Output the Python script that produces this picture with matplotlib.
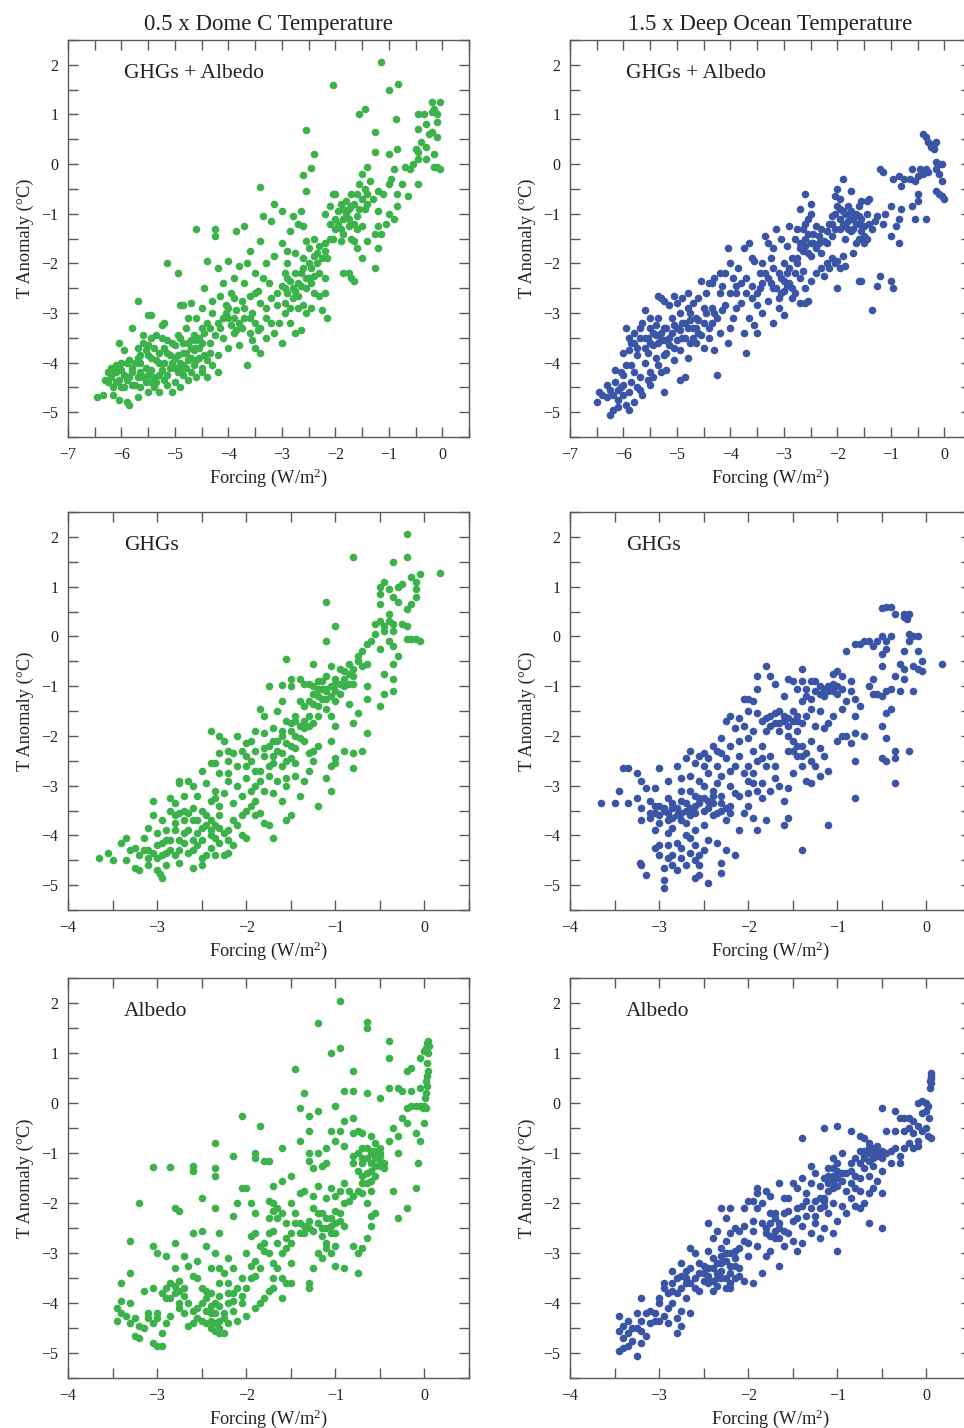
import matplotlib
matplotlib.use("Agg")
import matplotlib.pyplot as plt
from matplotlib.ticker import MultipleLocator

# ---------------- data ----------------
dome_both = [
    (-1.15, 2.05), (-2.05, 1.6), (-1.0, 1.5), (-0.83, 1.62), (-1.45, 1.1), (-1.55, 1.0), (-2.55, 0.68),
    (-1.25, 0.65), (-0.87, 0.9), (-2.4, 0.2), (-1.25, 0.25), (-2.45, -0.08), (-2.6, -0.23), (-2.55, -0.55),
    (-3.4, -0.47), (-1.0, 0.2), (-0.85, 0.3), (-0.9, -0.1), (-0.6, -0.1), (-0.65, -0.65), (-0.75, -0.4),
    (-0.05, 1.25), (-0.2, 1.25), (-0.15, 1.1), (-0.1, 1.0), (-0.2, 1.05), (-0.35, 1.0), (-0.45, 1.0),
    (-0.1, 0.85), (-0.3, 0.8), (-0.45, 0.7), (-0.2, 0.65), (-0.1, 0.55), (-0.4, 0.45), (-0.3, 0.35),
    (-0.5, 0.3), (-0.45, 0.25), (-0.15, 0.2), (-0.3, 0.1), (-0.45, 0.1), (-0.55, 0.0), (-0.1, -0.05),
    (-0.15, -0.05), (-0.05, -0.1), (-0.45, -0.4), (-0.7, -0.05), (-0.25, 0.6),
    (-0.85, -0.6), (-0.95, -0.3), (-1.0, -1.0), (-0.9, -1.1), (-1.05, -1.2), (-1.15, -1.4), (-1.2, -1.25),
    (-1.2, -0.55), (-1.4, -0.05), (-1.35, -0.35), (-1.45, -0.5), (-1.4, -0.8), (-1.5, -1.25), (-1.4, -1.55),
    (-1.25, -1.4), (-1.2, -1.7), (-1.25, -2.1), (-1.5, -1.9), (-1.6, -1.7), (-1.65, -1.55), (-1.7, -2.3),
    (-1.75, -2.2), (-1.85, -2.2), (-1.65, -2.35),
    (-1.5, -0.2), (-1.55, -0.4), (-1.6, -0.6), (-1.7, -0.6), (-1.65, -0.8), (-1.75, -0.9), (-1.8, -1.0),
    (-1.9, -0.8), (-1.95, -0.95), (-2.0, -0.6), (-2.05, -0.6), (-2.1, -0.85), (-1.85, -1.1), (-1.6, -1.05),
    (-1.6, -1.3), (-1.75, -1.25), (-1.85, -1.4), (-2.0, -1.3), (-2.1, -1.2), (-2.2, -1.0), (-1.7, -1.5),
    (-1.9, -1.55), (-2.05, -1.5),
    (-2.2, -1.75), (-2.3, -1.65), (-2.4, -1.85), (-2.5, -1.7), (-2.55, -1.55), (-2.6, -1.25), (-2.65, -0.95),
    (-2.7, -1.2), (-2.8, -1.05), (-2.85, -1.35), (-2.9, -1.75), (-3.0, -1.6), (-3.15, -1.85), (-3.2, -1.15),
    (-3.15, -0.8), (-3.0, -0.95), (-3.35, -1.05), (-3.4, -1.55), (-2.35, -2.0), (-2.45, -2.1), (-2.5, -2.3),
    (-2.55, -2.5), (-2.65, -2.2), (-2.7, -2.4), (-2.75, -2.2), (-2.8, -2.5), (-2.85, -2.35), (-2.9, -2.6),
    (-2.95, -2.2), (-3.0, -2.45), (-2.6, -2.85), (-2.65, -3.35), (-2.55, -3.0), (-2.45, -2.9), (-2.3, -2.65),
    (-2.2, -2.6), (-2.2, -2.3), (-2.15, -3.1), (-2.25, -2.95), (-2.4, -2.6), (-2.7, -2.9), (-2.75, -3.4),
    (-2.85, -3.2), (-2.95, -3.0), (-3.0, -3.6), (-3.1, -2.85), (-3.2, -3.2), (-3.3, -3.1), (-3.4, -2.8),
    (-3.35, -2.3), (-3.3, -2.0), (-3.5, -2.2), (-3.5, -2.6), (-3.55, -3.0), (-3.45, -3.35), (-3.5, -3.7),
    (-3.4, -3.8), (-3.6, -3.4), (-3.7, -3.1), (-3.75, -2.75), (-3.7, -2.4), (-3.65, -2.0), (-3.6, -1.75),
    (-3.7, -1.25), (-3.85, -1.35), (-3.8, -2.05), (-3.9, -2.3), (-3.95, -2.6), (-3.85, -2.95), (-3.9, -3.4),
    (-3.8, -3.65), (-3.65, -4.05), (-4.0, -3.1), (-4.05, -2.85), (-4.1, -3.5), (-4.15, -2.65), (-4.2, -2.1),
    (-4.25, -1.3), (-4.25, -1.45), (-4.0, -1.95), (-4.3, -3.0), (-4.35, -3.3), (-4.2, -3.85), (-4.45, -2.5),
    (-4.4, -1.95), (-4.6, -1.3), (-4.7, -2.8), (-4.75, -3.1), (-4.85, -2.85), (-4.95, -2.2), (-4.9, -2.85),
    (-5.15, -2.0), (-5.2, -3.2), (-5.45, -3.05), (-5.5, -3.05), (-5.7, -2.75), (-5.8, -3.3), (-6.05, -3.6),
    (-4.5, -3.3), (-4.55, -3.5), (-4.6, -3.7), (-4.65, -3.45), (-4.7, -3.9), (-4.75, -3.6), (-4.8, -4.1),
    (-4.85, -3.8), (-4.9, -3.5), (-4.95, -4.2), (-5.0, -3.9), (-5.05, -3.6), (-5.1, -4.1), (-5.15, -3.8),
    (-5.2, -4.35), (-5.25, -3.5), (-5.3, -4.0), (-5.35, -4.4), (-5.4, -3.7), (-5.45, -4.15), (-5.5, -3.85),
    (-5.55, -4.4), (-5.6, -3.6), (-5.65, -4.2), (-5.7, -3.9), (-5.75, -4.45), (-5.8, -4.1), (-5.85, -4.3),
    (-5.9, -4.0), (-5.95, -4.5), (-6.0, -4.15), (-6.05, -4.35), (-6.1, -4.2), (-6.15, -4.5), (-6.2, -4.3),
    (-6.25, -4.4), (-6.0, -4.0), (-5.9, -4.8), (-5.85, -4.85), (-6.05, -4.75), (-6.15, -4.65), (-6.45, -4.7),
    (-6.35, -4.65), (-4.4, -4.3), (-4.3, -4.05), (-4.2, -4.2), (-4.5, -4.1), (-4.6, -4.3), (-4.75, -4.35),
    (-4.9, -4.5), (-5.05, -4.6), (-5.3, -4.6), (-5.5, -4.6), (-5.7, -4.7), (-4.45, -3.85), (-4.35, -3.6),
    (-4.25, -3.45), (-4.4, -3.95), (-4.15, -3.3), (-4.05, -3.0), (-3.95, -3.25), (-3.85, -3.35), (-4.0, -3.7),
    (-5.25, -3.25), (-5.35, -3.45), (-5.15, -3.55), (-5.45, -3.5), (-5.6, -3.45), (-5.7, -3.7), (-5.55, -3.75),
    (-5.95, -3.75), (-6.1, -4.05), (-6.2, -4.1), (-5.8, -4.2), (-5.65, -4.5), (-5.4, -4.3), (-5.2, -4.0),
    (-4.9, -4.0), (-4.65, -4.05), (-4.55, -3.9), (-4.7, -3.7), (-4.85, -4.25), (-5.0, -4.4), (-4.8, -3.3),
    (-4.95, -3.45),
    (-6.2, -4.25), (-6.1, -4.4), (-6.0, -4.5), (-5.95, -4.25), (-5.9, -4.35), (-5.8, -4.45), (-5.75, -4.0),
    (-5.7, -4.3), (-5.65, -4.0), (-5.6, -4.3), (-5.55, -4.1), (-5.5, -4.25), (-5.45, -3.9), (-5.4, -4.5),
    (-5.35, -3.95), (-5.3, -4.25), (-5.25, -4.15), (-5.2, -3.7), (-5.15, -4.25), (-5.1, -3.85), (-5.05, -4.0),
    (-5.0, -3.65), (-4.95, -3.85), (-4.9, -4.15), (-4.85, -3.6), (-4.8, -3.8), (-4.75, -3.95), (-4.7, -3.55),
    (-4.65, -3.75), (-4.6, -3.55), (-4.55, -3.7), (-4.5, -3.6), (-4.45, -3.4), (-4.6, -3.95), (-4.7, -4.2),
    (-5.0, -4.1), (-5.3, -3.8), (-5.5, -3.65), (-5.65, -3.85), (-5.85, -3.95), (-6.05, -4.1), (-6.25, -4.2),
    (-6.3, -4.35), (-5.45, -4.4), (-5.15, -4.45), (-4.85, -4.05), (-4.5, -4.2), (-4.35, -3.8),
    (-4.2, -3.2), (-4.1, -3.1), (-4.0, -2.9), (-3.9, -3.1), (-3.8, -3.2), (-3.7, -2.9), (-3.6, -3.1),
    (-3.5, -3.2), (-3.4, -3.3), (-3.3, -2.9), (-3.2, -2.7), (-3.1, -2.6), (-3.05, -3.2), (-2.95, -2.8),
    (-2.9, -2.3), (-2.8, -2.7), (-2.75, -2.55), (-2.7, -2.65), (-2.65, -2.45), (-2.6, -2.1), (-2.55, -2.3),
    (-2.5, -2.0), (-2.45, -2.4), (-2.4, -2.25), (-2.35, -1.8), (-2.3, -2.2), (-2.25, -1.9), (-2.2, -1.6),
    (-2.15, -1.9), (-2.1, -1.5), (-2.0, -1.1), (-1.95, -1.2), (-1.9, -1.3), (-1.85, -0.9), (-1.8, -0.75),
    (-1.75, -1.1), (-1.7, -0.85), (-1.65, -1.2), (-1.55, -0.9), (-1.5, -0.7), (-1.45, -0.9), (-1.4, -0.6),
    (-1.3, -0.7), (-1.2, -0.95), (-1.1, -0.6), (-1.0, -0.4), (-0.85, -0.85), (-2.85, -2.9), (-2.95, -2.5),
    (-3.25, -2.4), (-3.45, -2.55), (-3.6, -2.65), (-3.75, -3.3), (-3.55, -3.55), (-3.3, -3.5), (-3.15, -3.4),
    (-3.9, -2.7), (-4.1, -2.4), (-4.3, -2.75), (-4.5, -2.9), (-4.6, -3.1), (-4.4, -3.2), (-2.4, -1.5),
    (-2.6, -1.9), (-2.75, -1.8), (-2.9, -2.0),
]

ocean_both = [
    (-0.4, 0.6), (-0.35, 0.55), (-0.3, 0.45), (-0.2, 0.4), (-0.15, 0.45), (-0.25, 0.35), (-0.2, 0.3),
    (-0.15, 0.05), (-0.1, 0.0), (-0.05, 0.0), (-0.15, -0.1), (-0.1, -0.2), (-0.05, -0.35), (-0.15, -0.55),
    (-0.05, -0.65), (0.0, -0.7), (-0.1, -0.6), (-0.3, -0.15), (-0.35, -0.1), (-0.4, -0.2), (-0.45, -0.1),
    (-0.5, -0.25), (-0.55, -0.35), (-0.6, -0.1), (-0.65, -0.3), (-0.5, -0.6), (-0.5, -0.75), (-0.6, -0.85),
    (-0.55, -1.1), (-0.35, -1.1), (-0.75, -0.3), (-0.8, -0.45), (-0.85, -0.25), (-0.95, -0.3), (-1.2, -0.1),
    (-1.15, -0.15), (-0.8, -0.9), (-0.85, -1.1), (-0.9, -1.25), (-0.85, -1.6), (-1.0, -0.85), (-1.0, -1.45),
    (-1.1, -1.0), (-1.15, -1.2), (-1.25, -1.05), (-1.2, -2.25), (-1.0, -2.35), (-0.95, -2.5), (-1.25, -2.45),
    (-1.35, -2.95), (-1.55, -2.35), (-1.6, -2.35),
    (-1.4, -0.7), (-1.45, -0.75), (-1.55, -0.75), (-1.6, -0.85), (-1.65, -1.0), (-1.7, -1.1), (-1.75, -0.95),
    (-1.8, -0.85), (-1.85, -1.0), (-1.9, -1.2), (-1.95, -0.9), (-2.0, -0.85), (-2.05, -1.0), (-2.0, -0.5),
    (-2.05, -0.65), (-1.9, -0.3), (-1.75, -0.55), (-1.6, -1.2), (-1.55, -1.35), (-1.6, -1.5), (-1.5, -1.6),
    (-1.65, -1.6), (-1.7, -1.8), (-1.75, -1.35), (-1.85, -1.5), (-1.95, -1.3), (-2.1, -1.2), (-1.45, -1.0),
    (-1.4, -1.2), (-1.5, -1.25), (-1.35, -1.3), (-1.3, -1.15), (-1.45, -1.5),
    (-1.9, -1.85), (-2.0, -1.95), (-2.05, -2.0), (-2.1, -1.9), (-2.15, -2.1), (-2.2, -2.0), (-2.25, -2.25),
    (-2.3, -2.1), (-2.0, -2.5), (-1.95, -2.1), (-1.85, -2.05),
    (-2.1, -1.45), (-2.2, -1.6), (-2.3, -1.8), (-2.35, -1.6), (-2.4, -1.25), (-2.45, -1.4), (-2.5, -1.6),
    (-2.55, -1.8), (-2.6, -1.5), (-2.65, -1.3), (-2.55, -1.1), (-2.5, -0.8), (-2.5, -1.0), (-2.6, -0.6),
    (-2.7, -0.9), (-2.75, -1.3), (-2.7, -1.7), (-2.8, -1.5), (-2.85, -1.9), (-2.9, -1.25), (-2.95, -1.65),
    (-3.0, -2.0), (-3.05, -1.5), (-3.15, -1.3), (-3.2, -1.7), (-3.25, -1.9), (-3.3, -1.6), (-3.35, -1.45),
    (-2.4, -2.2), (-2.5, -2.35), (-2.6, -2.5), (-2.65, -2.15), (-2.7, -2.3), (-2.75, -2.0), (-2.8, -2.6),
    (-2.9, -2.4), (-2.95, -2.2), (-3.0, -2.55), (-3.05, -2.3), (-3.1, -2.7), (-3.15, -2.5), (-3.2, -2.1),
    (-3.25, -2.4), (-3.3, -2.75), (-3.35, -2.2), (-3.4, -2.0), (-3.45, -2.5), (-3.5, -2.85), (-2.55, -2.75),
    (-2.6, -2.8), (-2.7, -2.8), (-2.85, -2.7), (-3.0, -3.05), (-3.1, -2.9), (-3.2, -3.2), (-3.4, -3.0),
    (-3.5, -3.4), (-3.65, -3.1), (-3.7, -3.8), (-3.75, -3.4), (-3.55, -3.25), (-3.6, -2.7), (-3.7, -2.3),
    (-3.75, -1.7), (-3.65, -1.6), (-3.85, -2.1), (-3.9, -2.6), (-3.95, -2.3), (-4.0, -2.0), (-4.05, -1.7),
    (-4.1, -2.2), (-4.15, -2.45), (-4.2, -2.6), (-4.3, -2.3), (-4.35, -2.4), (-3.9, -2.9), (-3.95, -3.1),
    (-4.0, -3.3), (-4.05, -3.6), (-4.1, -2.85), (-4.3, -3.0), (-4.35, -3.2), (-4.45, -2.6), (-4.55, -2.35),
    (-4.6, -2.7), (-4.7, -2.8), (-4.75, -3.0), (-4.8, -2.6), (-4.9, -2.7), (-5.05, -2.65), (-5.15, -2.85),
    (-5.25, -2.75), (-5.35, -2.65), (-5.3, -2.7), (-4.4, -3.5), (-4.3, -3.75), (-4.2, -3.4), (-4.5, -3.7),
    (-4.6, -3.4), (-4.65, -3.1), (-4.7, -3.3), (-4.75, -3.6), (-4.8, -3.9), (-4.85, -3.2), (-4.9, -3.5),
    (-4.95, -3.0), (-5.0, -3.3), (-5.05, -3.7), (-5.1, -3.1), (-5.15, -3.5), (-5.2, -3.8), (-5.25, -3.3),
    (-5.3, -3.55), (-5.35, -3.1), (-5.4, -3.45), (-5.45, -3.65), (-5.5, -3.3), (-5.55, -3.5), (-5.6, -3.7),
    (-5.65, -3.2), (-5.7, -3.5), (-5.75, -3.85), (-5.8, -3.4), (-5.85, -3.6), (-5.9, -3.75), (-5.95, -3.3),
    (-6.0, -3.8), (-5.6, -2.95), (-5.5, -3.1), (-4.25, -4.25), (-4.95, -4.35), (-4.85, -4.3), (-5.2, -4.15),
    (-5.3, -4.2), (-5.35, -4.05), (-5.25, -4.6), (-5.5, -4.2), (-5.5, -4.45), (-5.55, -4.35), (-5.6, -4.0),
    (-5.7, -4.3), (-5.75, -4.5), (-5.8, -4.2), (-5.85, -4.05), (-5.9, -4.6), (-5.95, -4.85), (-6.0, -4.25),
    (-6.05, -4.5), (-6.1, -4.75), (-6.15, -4.4), (-6.2, -4.65), (-6.25, -4.55), (-6.3, -4.45), (-6.2, -4.95),
    (-6.25, -5.05), (-6.1, -4.9), (-5.9, -4.95), (-6.45, -4.6), (-6.5, -4.8), (-6.4, -4.65), (-5.65, -4.65),
    (-5.8, -4.8), (-6.0, -4.65), (-6.05, -4.2),
    (-5.7, -3.3), (-5.6, -3.5), (-5.5, -3.6), (-5.45, -3.4), (-5.4, -3.25), (-5.35, -3.6), (-5.3, -3.4),
    (-5.25, -3.55), (-5.2, -3.3), (-5.15, -3.65), (-5.1, -3.4), (-5.05, -3.25), (-5.0, -3.55), (-4.95, -3.35),
    (-4.9, -3.2), (-4.85, -3.5), (-4.8, -3.3), (-4.75, -3.15), (-4.7, -3.5), (-4.65, -3.3), (-4.6, -3.15),
    (-4.55, -3.45), (-4.5, -3.2), (-4.45, -3.0), (-4.4, -3.3), (-4.35, -2.9), (-4.25, -3.1), (-4.15, -2.95),
    (-5.8, -3.6), (-5.9, -3.5), (-5.75, -3.7), (-5.55, -3.8), (-5.25, -3.85), (-4.95, -3.75), (-4.65, -3.6),
    (-5.4, -3.9), (-5.05, -3.95),
    (-4.0, -2.6), (-3.9, -2.45), (-3.8, -2.8), (-3.7, -2.6), (-3.6, -2.45), (-3.5, -2.6), (-3.4, -2.4),
    (-3.3, -2.3), (-3.2, -2.5), (-3.1, -2.2), (-3.05, -2.6), (-3.0, -2.35), (-2.95, -2.45), (-2.9, -2.1),
    (-2.85, -2.5), (-2.8, -2.2), (-2.75, -1.9), (-2.7, -1.6), (-2.65, -1.75), (-2.6, -1.65), (-2.55, -1.4),
    (-2.5, -1.85), (-2.45, -1.6), (-2.4, -1.7), (-2.35, -1.45), (-2.3, -1.3), (-2.25, -1.55), (-2.2, -1.35),
    (-2.15, -1.2), (-2.1, -1.05), (-2.05, -1.3), (-1.95, -1.1), (-1.9, -0.95), (-1.85, -1.25), (-1.8, -1.15),
    (-1.75, -1.05), (-1.7, -1.3), (-1.65, -1.2), (-1.6, -1.05), (-1.55, -1.1), (-1.5, -1.45), (-1.8, -1.3),
    (-1.95, -0.7), (-2.6, -1.2), (-3.6, -1.9), (-3.45, -2.2), (-3.55, -1.95), (-3.8, -2.4), (-4.2, -2.2),
    (-4.4, -2.4), (-4.5, -2.9), (-4.8, -2.9), (-5.0, -2.8), (-5.95, -4.05), (-6.1, -4.55), (-5.85, -4.4),
    (-5.7, -4.55), (-6.15, -4.15), (-6.3, -4.7), (-6.0, -4.45), (-5.45, -4.3),
]

dome_ghg = [
    (-0.2, 2.05), (-0.8, 1.6), (-0.2, 1.6), (-0.35, 1.5), (0.18, 1.27), (-0.05, 1.25), (-0.15, 1.2),
    (-0.1, 1.1), (-0.25, 1.05), (-0.3, 1.0), (-0.45, 1.1), (-0.5, 1.0), (-0.5, 0.85), (-0.4, 0.95),
    (-0.1, 0.95), (-0.1, 0.8), (-0.35, 0.8), (-0.3, 0.7), (-0.15, 0.65), (-0.2, 0.55), (-0.5, 0.65),
    (-0.4, 0.45), (-1.1, 0.7), (-1.0, 0.2), (-1.1, -0.1), (-0.4, 0.3), (-0.5, 0.3), (-0.45, 0.2),
    (-0.35, 0.25), (-0.25, 0.25), (-0.2, 0.2), (-0.55, 0.25), (-0.45, 0.1), (-0.55, 0.05), (-0.35, 0.1),
    (-0.1, -0.05), (-0.05, -0.1), (-0.15, -0.05), (-0.2, -0.05), (-0.4, -0.1), (-0.35, -0.2), (-0.5, -0.25),
    (-0.3, -0.4), (-0.35, -0.55), (-0.45, -0.75), (-0.35, -0.85), (-0.45, -1.15), (-0.35, -1.1), (-0.5, -1.4),
    (-0.6, -0.1), (-0.65, -0.15), (-0.7, -0.3), (-0.75, -0.5), (-0.65, -1.0), (-0.65, -1.25), (-0.65, -1.95),
    (-0.7, -2.3), (-0.8, -2.35), (-0.8, -2.65), (-0.9, -2.3), (-0.85, -1.35), (-0.75, -1.55), (-0.8, -1.75),
    (-0.85, -0.55), (-0.9, -0.7), (-0.95, -0.65), (-1.0, -0.85), (-1.05, -0.6), (-0.95, -0.95), (-1.0, -1.1),
    (-1.05, -1.0), (-1.1, -0.8), (-1.15, -1.05), (-1.2, -0.9), (-1.1, -1.25), (-1.2, -1.2), (-1.25, -1.0),
    (-1.3, -1.3), (-1.35, -0.95), (-1.4, -1.3), (-1.25, -0.55), (-1.3, -0.95), (-1.4, -0.85), (-1.5, -0.85),
    (-1.5, -1.0), (-1.6, -0.98), (-1.75, -1.0), (-1.55, -0.45), (-1.45, -1.6), (-1.55, -1.7), (-1.6, -1.3),
    (-1.65, -1.5), (-1.3, -1.8), (-1.35, -1.7), (-1.25, -1.75), (-1.2, -1.6), (-1.1, -1.45), (-1.05, -1.6),
    (-1.0, -1.8), (-1.05, -2.1), (-1.0, -2.45), (-1.05, -2.6), (-1.1, -2.85), (-1.05, -3.1), (-1.0, -2.55),
    (-1.2, -2.2), (-1.25, -2.5), (-1.3, -2.35), (-1.35, -2.9), (-1.4, -2.05), (-1.45, -2.25), (-1.5, -2.45),
    (-1.55, -2.15), (-1.6, -2.0), (-1.65, -2.3), (-1.7, -1.85), (-1.7, -2.55), (-1.75, -2.2), (-1.8, -1.6),
    (-1.85, -1.45), (-1.85, -2.7), (-1.8, -2.4), (-1.9, -1.9), (-1.95, -2.1), (-1.95, -2.5), (-2.0, -2.6),
    (-2.05, -2.3), (-2.1, -2.0), (-2.15, -2.35), (-2.2, -2.5), (-2.25, -2.1), (-2.3, -2.0), (-2.3, -2.75),
    (-2.4, -1.9), (-2.35, -2.55), (-2.0, -2.85), (-1.95, -3.1), (-1.9, -3.3), (-2.0, -3.5), (-2.05, -3.2),
    (-2.1, -3.0), (-2.15, -3.35), (-2.2, -2.9), (-2.25, -3.15), (-2.3, -3.4), (-2.35, -3.1), (-2.4, -3.3),
    (-2.45, -2.95), (-2.5, -3.5), (-2.55, -3.2), (-2.6, -3.0), (-2.65, -2.9), (-2.7, -3.2), (-2.75, -2.95),
    (-2.8, -3.6), (-1.85, -3.55), (-1.8, -3.75), (-1.75, -3.8), (-1.7, -4.05), (-1.55, -3.7), (-1.5, -3.6),
    (-1.2, -3.4), (-1.6, -3.3), (-1.65, -2.9), (-1.55, -2.85), (-1.45, -2.8), (-1.4, -3.2), (-1.3, -2.7),
    (-1.75, -2.8), (-1.7, -3.15), (-2.0, -4.05), (-2.05, -4.0), (-2.15, -4.2), (-2.2, -3.9), (-2.25, -4.4),
    (-2.3, -4.15), (-2.35, -3.8), (-2.4, -4.0), (-2.45, -4.4), (-2.5, -3.85), (-2.55, -4.2), (-2.6, -3.7),
    (-2.65, -4.35), (-2.7, -3.95), (-2.75, -4.1), (-2.8, -3.75), (-2.85, -4.3), (-2.9, -3.9), (-2.95, -4.4),
    (-3.0, -4.2), (-3.05, -3.6), (-3.1, -4.3), (-3.15, -4.05), (-3.2, -4.4), (-3.25, -4.25), (-2.9, -4.6),
    (-2.95, -4.85), (-2.97, -4.78), (-3.0, -4.7), (-3.1, -4.6), (-3.2, -4.7), (-3.25, -4.65), (-2.75, -4.55),
    (-2.6, -4.65), (-2.5, -4.6), (-2.35, -4.4), (-2.2, -4.35), (-3.3, -4.3), (-3.35, -4.5), (-3.4, -4.15),
    (-3.5, -4.5), (-3.55, -4.35), (-3.65, -4.45), (-3.35, -4.05), (-3.1, -3.85), (-3.05, -3.3), (-2.95, -3.7),
    (-2.85, -3.5), (-2.75, -3.55), (-2.7, -3.5), (-2.6, -3.45), (-2.45, -3.6), (-2.4, -3.7), (-2.3, -3.6),
    (-2.1, -3.8), (-1.9, -3.6), (-2.85, -3.25), (-2.75, -2.9), (-2.5, -2.7), (-2.4, -2.55), (-2.3, -2.35),
    (-2.2, -2.3), (-1.9, -2.3), (-1.8, -2.25), (-1.6, -2.6), (-1.5, -1.9), (-1.45, -1.7), (-1.35, -1.85),
    (-1.2, -1.4), (-1.1, -1.1), (-1.0, -1.3), (-0.9, -1.0), (-0.85, -0.75), (-0.8, -0.65), (-0.7, -0.6),
    (-0.75, -0.4), (-0.8, -0.95), (-0.65, -0.55),
    (-3.05, -4.35), (-3.0, -4.45), (-2.95, -4.15), (-2.9, -4.35), (-2.85, -4.1), (-2.8, -4.4), (-2.75, -4.3),
    (-2.7, -4.15), (-2.65, -3.9), (-2.6, -4.1), (-2.55, -3.95), (-2.5, -4.1), (-2.45, -3.8), (-2.4, -3.9),
    (-2.35, -4.05), (-2.3, -3.85), (-2.25, -3.95), (-2.7, -3.7), (-2.8, -3.9), (-2.9, -4.1), (-3.0, -3.95),
    (-3.15, -4.3), (-3.1, -4.45), (-2.6, -4.3), (-2.5, -4.45), (-2.4, -4.25), (-2.2, -4.1), (-2.15, -3.7),
    (-2.05, -3.6), (-1.95, -3.4), (-1.9, -3.0), (-1.85, -2.9), (-1.8, -3.1), (-1.75, -2.6), (-1.7, -2.4),
    (-1.65, -2.1), (-1.6, -2.35), (-1.55, -2.5), (-1.5, -2.2), (-1.45, -2.0), (-1.4, -1.8), (-1.35, -2.1),
    (-1.3, -1.6), (-1.25, -1.35), (-1.2, -1.05), (-1.15, -0.9), (-1.1, -1.05), (-1.05, -1.2), (-1.0, -0.95),
    (-0.95, -1.15), (-0.9, -0.85), (-0.85, -0.95), (-0.8, -0.8), (-1.15, -1.25), (-1.25, -1.15), (-1.35, -1.4),
    (-1.5, -1.75), (-1.6, -1.9), (-1.7, -2.1), (-1.9, -2.7), (-2.0, -2.4), (-2.1, -2.6), (-2.2, -2.75),
    (-2.35, -3.25), (-2.55, -3.7), (-2.65, -3.55), (-2.8, -3.35), (-1.55, -3.0), (-1.45, -2.55), (-1.25, -2.3),
    (-1.8, -1.95), (-2.0, -2.15),
]

ocean_ghg = [
    (-0.45, 0.6), (-0.4, 0.6), (-0.35, 0.45), (-0.5, 0.57), (-0.25, 0.45), (-0.2, 0.45), (-0.22, 0.35),
    (-0.25, 0.38), (-0.2, 0.05), (-0.15, 0.0), (-0.1, 0.0), (-0.2, -0.1), (-0.1, -0.3), (-0.05, -0.5),
    (-0.05, -0.7), (-0.1, -0.65), (-0.15, -0.6), (0.18, -0.55), (-0.25, -0.65), (-0.3, -0.55), (-0.35, -0.8),
    (-0.25, -0.85), (-0.3, -1.1), (-0.15, -1.1), (-0.25, -0.3), (-0.4, -0.0), (-0.45, -0.1), (-0.5, 0.0),
    (-0.55, -0.1), (-0.6, -0.2), (-0.65, -0.1), (-0.7, -0.1), (-0.75, -0.15), (-0.8, -0.15), (-0.9, -0.3),
    (-0.45, -0.25), (-0.5, -0.35), (-0.5, -0.6), (-0.45, -1.1), (-0.4, -1.05), (-0.5, -1.2), (-0.55, -1.15),
    (-0.6, -1.15), (-0.6, -0.85), (-0.65, -1.0), (-0.45, -1.55), (-0.4, -1.45), (-0.5, -1.8), (-0.45, -2.05),
    (-0.35, -2.3), (-0.35, -2.45), (-0.45, -2.5), (-0.5, -2.45), (-0.2, -2.3), (-0.35, -2.95), (-0.8, -2.5),
    (-0.8, -3.25), (-1.1, -3.8), (-1.4, -4.3), (-0.8, -1.95), (-0.7, -2.0), (-0.85, -2.15), (-0.9, -2.0),
    (-0.95, -2.0), (-1.0, -2.1), (-1.05, -1.6), (-1.1, -1.75), (-0.95, -1.45), (-0.9, -1.3), (-0.85, -1.1),
    (-0.8, -1.25), (-0.75, -1.4), (-0.8, -1.6), (-0.85, -0.9), (-0.95, -0.8), (-1.0, -0.7), (-1.05, -0.75),
    (-1.0, -1.0), (-1.05, -1.1), (-1.1, -1.0), (-1.15, -1.05), (-1.2, -1.15), (-1.25, -0.9), (-1.3, -0.9),
    (-1.35, -1.2), (-1.4, -1.3), (-1.45, -1.05), (-1.5, -0.9), (-1.55, -0.85), (-1.4, -0.65), (-1.6, -1.2),
    (-1.3, -1.45), (-1.2, -1.5), (-1.15, -1.85), (-1.25, -1.8), (-1.3, -2.1), (-1.2, -2.25), (-1.15, -2.4),
    (-1.1, -2.7), (-1.2, -2.8), (-1.25, -2.6), (-1.35, -2.9), (-1.3, -2.95), (-1.4, -2.4), (-1.45, -2.2),
    (-1.5, -2.3), (-1.55, -2.0), (-1.6, -1.7), (-1.65, -1.5), (-1.7, -1.75), (-1.75, -1.6), (-1.8, -1.9),
    (-1.85, -1.7), (-1.55, -1.65), (-1.5, -1.5), (-1.45, -1.7), (-1.45, -1.9), (-1.35, -1.6), (-1.4, -2.6),
    (-1.5, -2.75), (-1.55, -3.05), (-1.6, -3.3), (-1.6, -3.8), (-1.55, -3.65), (-1.65, -3.0), (-1.7, -2.6),
    (-1.75, -2.4), (-1.8, -2.6), (-1.85, -2.2), (-1.9, -2.5), (-1.95, -2.3), (-2.0, -2.05), (-2.05, -1.8),
    (-1.9, -1.55), (-1.95, -1.3), (-2.0, -1.5), (-1.9, -1.05), (-1.9, -0.8), (-1.75, -0.8), (-1.8, -0.6),
    (-1.7, -0.95), (-2.0, -1.25), (-2.05, -1.25), (-2.2, -1.6), (-2.25, -1.7), (-2.15, -1.85), (-2.1, -2.1),
    (-2.2, -2.2), (-2.3, -2.05), (-2.35, -2.3), (-2.4, -2.2), (-2.45, -2.45), (-2.5, -2.35), (-2.55, -2.4),
    (-2.6, -2.55), (-2.65, -2.3), (-2.25, -2.45), (-2.15, -2.6), (-2.05, -2.75), (-2.0, -2.9), (-1.95, -2.95),
    (-1.9, -3.1), (-1.85, -3.25), (-2.0, -3.4), (-2.05, -3.55), (-1.95, -3.65), (-1.8, -3.7), (-1.9, -3.9),
    (-2.1, -3.9), (-2.25, -3.7), (-2.2, -3.4), (-2.3, -3.2), (-2.35, -2.95), (-2.4, -3.1), (-2.45, -3.3),
    (-2.5, -3.5), (-2.55, -3.25), (-2.6, -3.4), (-2.65, -3.1), (-2.7, -3.5), (-2.75, -3.3), (-2.8, -3.6),
    (-2.85, -3.45), (-2.9, -3.7), (-2.95, -3.5), (-3.0, -3.6), (-3.05, -3.4), (-3.1, -3.3), (-3.15, -3.05),
    (-3.2, -2.9), (-3.25, -2.75), (-3.35, -2.65), (-3.4, -2.65), (-3.45, -3.1), (-3.5, -3.35), (-3.65, -3.35),
    (-3.35, -3.35), (-3.25, -3.25), (-3.2, -3.7), (-3.0, -2.65), (-2.8, -2.6), (-2.75, -2.85), (-2.65, -2.8),
    (-2.55, -2.9), (-2.45, -2.75), (-2.35, -2.6), (-3.05, -3.9), (-2.9, -3.95), (-2.85, -3.85), (-2.7, -4.0),
    (-2.6, -3.9), (-2.5, -3.8), (-2.45, -4.1), (-2.35, -4.15), (-2.25, -4.3), (-2.15, -4.4), (-2.3, -4.55),
    (-2.3, -4.75), (-2.45, -4.95), (-2.55, -4.8), (-2.6, -4.5), (-2.65, -4.35), (-2.7, -4.6), (-2.75, -4.25),
    (-2.8, -4.7), (-2.85, -4.4), (-2.9, -4.2), (-2.95, -4.9), (-2.95, -5.05), (-2.95, -4.65), (-3.0, -4.4),
    (-3.05, -4.25), (-3.2, -4.6), (-3.15, -4.8), (-3.22, -4.55), (-2.6, -4.85), (-2.55, -4.6), (-2.5, -4.3),
    (-2.6, -4.2), (-2.8, -4.15), (-3.0, -3.75), (-3.1, -3.65), (-2.75, -3.7), (-2.65, -3.6), (-2.4, -3.6),
    (-2.3, -3.5), (-2.2, -3.0), (-2.15, -3.15),
    (-2.95, -3.45), (-2.9, -3.55), (-2.85, -3.35), (-2.8, -3.45), (-2.75, -3.55), (-2.7, -3.35), (-2.65, -3.45),
    (-2.6, -3.55), (-2.55, -3.35), (-2.5, -3.25), (-2.45, -3.45), (-2.4, -3.35), (-2.35, -3.55), (-2.3, -3.35),
    (-2.25, -3.45), (-2.4, -3.2), (-2.5, -3.0), (-2.6, -3.2), (-2.75, -3.1), (-2.9, -3.25), (-3.0, -3.4),
    (-3.05, -3.55), (-2.85, -3.65), (-2.7, -3.75), (-1.8, -1.65), (-1.75, -1.8), (-1.7, -1.55), (-1.65, -1.75),
    (-1.6, -1.6), (-1.55, -1.8), (-1.5, -1.7), (-1.45, -1.6), (-1.4, -1.75), (-1.65, -1.9), (-1.55, -2.3),
    (-1.5, -2.1), (-1.45, -2.4), (-1.4, -2.2), (-1.35, -2.35), (-1.3, -2.5), (-1.2, -1.0), (-1.15, -1.2),
    (-1.1, -1.1), (-1.05, -0.95), (-1.0, -1.15), (-0.95, -1.05), (-1.25, -1.1), (-1.3, -1.25), (-1.35, -1.05),
    (-1.4, -0.9), (-2.1, -2.4), (-2.2, -2.7), (-2.3, -2.8), (-2.0, -2.6), (-1.95, -2.75), (-1.85, -2.95),
    (-1.7, -2.85), (-1.75, -3.1), (-2.1, -3.2), (-2.2, -3.55), (-2.0, -3.15), (-1.85, -2.45), (-1.95, -1.9),
    (-2.1, -1.65), (-2.3, -2.35), (-2.5, -2.6), (-2.7, -2.45), (-2.9, -2.9), (-3.05, -3.05), (-3.2, -3.45),
    (-3.1, -3.55), (-2.85, -4.6), (-2.75, -4.45), (-2.55, -4.4), (-2.65, -4.05), (-3.0, -4.2), (-2.9, -4.45),
]

dome_alb = [
    (-0.95, 2.05), (-1.2, 1.6), (-0.65, 1.62), (-0.65, 1.5), (-0.95, 1.1), (-1.05, 1.0), (-0.4, 1.25),
    (-0.4, 0.9), (-1.45, 0.68), (-0.8, 0.65), (-1.35, 0.2), (-0.9, 0.25), (-0.8, 0.25), (-0.65, 0.2),
    (-0.5, 0.1), (-0.4, 0.3), (-0.3, 0.3), (-0.25, 0.25), (-0.15, 0.25), (-0.05, 0.3), (-0.2, 0.65),
    (-0.15, 0.7), (-0.05, 0.9), (0.0, 1.05), (0.02, 1.1), (0.03, 1.2), (0.04, 1.25), (0.05, 1.15),
    (0.04, 1.0), (0.03, 0.8), (0.04, 0.65), (0.03, 0.55), (0.02, 0.45), (0.03, 0.35), (0.02, 0.2),
    (0.01, 0.1), (0.0, -0.05), (-0.05, -0.05), (-0.1, -0.05), (-0.15, -0.05), (0.02, -0.1), (-0.02, -0.1),
    (-0.2, -0.1), (0.0, -0.4), (-0.05, -0.75), (-0.1, -0.6), (-0.2, -0.4), (-0.25, -0.3), (-0.3, -0.65),
    (-0.35, -0.5), (-0.3, -1.0), (-0.35, -1.75), (-0.07, -1.2), (-0.1, -1.7), (-0.2, -2.1), (-0.3, -2.3),
    (-1.0, -0.05), (-1.2, -0.15), (-1.4, -0.1), (-1.3, -0.25), (-1.3, -0.55), (-1.4, -0.75), (-0.95, -0.55),
    (-0.9, -0.35), (-0.8, -0.3), (-0.9, -0.85), (-1.05, -0.55), (-1.1, -0.9), (-1.2, -1.0), (-1.15, -1.25),
    (-1.25, -1.3), (-1.3, -1.0), (-1.3, -1.15), (-1.0, -0.75), (-1.1, -1.2), (-0.8, -1.2), (-0.75, -1.35),
    (-0.6, -0.65), (-0.55, -0.8), (-0.5, -0.9), (-0.45, -1.2), (-0.6, -1.0), (-0.65, -0.9), (-0.7, -0.6),
    (-0.75, -0.55), (-0.8, -0.6), (-0.55, -1.1), (-0.5, -1.05), (-0.6, -1.35), (-0.65, -1.4), (-0.55, -1.45),
    (-0.7, -1.6), (-0.6, -1.75), (-0.7, -1.8), (-0.75, -1.75), (-0.8, -1.85), (-0.85, -1.95), (-0.9, -1.6),
    (-0.95, -1.75), (-1.0, -1.85), (-1.05, -1.7), (-1.1, -1.9), (-0.65, -2.0), (-0.6, -2.25), (-0.55, -2.2),
    (-0.6, -2.45), (-0.65, -2.7), (-0.7, -2.9), (-0.75, -3.0), (-0.8, -2.85), (-0.75, -3.4), (-0.9, -3.3),
    (-1.0, -3.25), (-1.05, -3.0), (-1.0, -2.85), (-1.1, -2.9), (-1.15, -3.1), (-1.25, -3.3), (-1.3, -3.6),
    (-1.3, -3.7), (-1.2, -3.0), (-0.9, -2.45), (-0.95, -2.2), (-1.0, -2.4), (-1.05, -2.6), (-1.1, -2.3),
    (-1.15, -2.5), (-1.2, -2.2), (-1.25, -2.55), (-1.3, -2.35), (-1.35, -2.6), (-1.4, -2.4), (-1.45, -2.2),
    (-1.5, -2.6), (-1.55, -2.4), (-1.6, -2.2), (-1.65, -2.1), (-1.7, -2.0), (-1.75, -1.95), (-1.5, -2.0),
    (-1.4, -1.8), (-1.35, -1.75), (-1.25, -1.85), (-1.2, -1.65), (-1.5, -1.45), (-1.6, -0.9), (-1.6, -1.55),
    (-1.7, -1.65), (-1.75, -1.15), (-1.8, -1.15), (-1.9, -1.0), (-1.9, -1.1), (-1.85, -0.45), (-2.05, -0.25),
    (-2.0, -1.7), (-2.05, -1.7), (-2.15, -1.05), (-2.1, -2.0), (-2.15, -2.25), (-1.95, -2.0), (-1.9, -2.2),
    (-1.9, -2.6), (-1.95, -2.65), (-1.75, -2.3), (-1.7, -2.55), (-1.65, -2.8), (-1.6, -3.0), (-1.55, -2.9),
    (-1.5, -3.2), (-1.55, -3.6), (-1.5, -3.6), (-1.6, -3.9), (-1.7, -3.7), (-1.75, -3.75), (-1.8, -3.9),
    (-1.85, -4.0), (-1.9, -4.1), (-2.0, -4.25), (-2.05, -4.0), (-1.7, -3.2), (-1.75, -3.0), (-1.8, -2.8),
    (-1.85, -3.3), (-1.9, -3.45), (-1.95, -3.25), (-2.0, -3.0), (-2.05, -3.5), (-2.1, -3.7), (-2.15, -3.3),
    (-2.2, -3.1), (-2.25, -3.4), (-2.3, -3.6), (-2.35, -3.0), (-2.45, -2.85), (-2.3, -2.6), (-2.35, -2.1),
    (-2.6, -2.6), (-2.5, -2.55), (-2.5, -1.9), (-2.75, -2.15), (-2.8, -2.1), (-2.35, -0.8), (-2.35, -1.3),
    (-2.35, -1.45), (-2.6, -1.25), (-2.6, -1.35), (-2.85, -1.28), (-3.05, -1.28), (-3.2, -2.0), (-3.3, -2.75),
    (-3.05, -2.85), (-3.0, -3.0), (-2.8, -2.8), (-2.7, -3.05), (-2.65, -3.25), (-2.55, -3.15), (-2.4, -3.3),
    (-2.3, -3.3), (-2.2, -3.6), (-2.15, -3.8), (-2.2, -4.0), (-2.25, -4.2), (-2.3, -4.35), (-2.35, -4.0),
    (-2.4, -4.2), (-2.45, -4.4), (-2.5, -4.35), (-2.55, -4.1), (-2.6, -4.4), (-2.65, -4.45), (-2.7, -4.2),
    (-2.4, -3.8), (-2.45, -3.9), (-2.35, -4.55), (-2.25, -4.6), (-2.3, -4.6), (-2.4, -4.5), (-2.5, -3.7),
    (-2.55, -3.5), (-2.6, -3.45), (-2.7, -3.7), (-2.75, -3.55), (-2.8, -3.8), (-2.85, -3.6), (-2.9, -3.9),
    (-2.75, -4.0), (-2.85, -4.25), (-2.9, -4.4), (-2.95, -4.6), (-3.0, -4.2), (-3.05, -4.4), (-3.1, -4.3),
    (-3.15, -4.5), (-3.0, -4.85), (-2.95, -4.85), (-3.05, -4.8), (-3.2, -4.7), (-3.25, -4.65), (-3.3, -4.4),
    (-3.25, -4.3), (-3.3, -4.0), (-3.4, -4.2), (-3.45, -4.1), (-3.45, -4.35), (-3.4, -3.95), (-3.4, -3.6),
    (-3.3, -3.4), (-3.15, -3.75), (-3.05, -3.7), (-2.8, -3.3), (-2.9, -3.05), (-2.95, -3.8), (-2.65, -4.0),
    (-2.2, -4.4), (-2.15, -4.15), (-2.1, -4.35), (-0.4, -0.75), (-0.5, -1.0), (-0.45, -1.3), (-0.55, -1.25),
    (-0.7, -1.1), (-0.6, -1.55), (-0.7, -1.2),
    (-2.45, -4.15), (-2.4, -4.35), (-2.35, -4.2), (-2.3, -4.05), (-2.25, -4.3), (-2.3, -3.85), (-2.35, -4.4),
    (-2.4, -4.05), (-2.45, -3.75), (-2.5, -4.0), (-2.55, -4.3), (-2.6, -4.15), (-2.2, -3.8), (-2.15, -3.95),
    (-2.3, -4.5), (-2.75, -3.75), (-2.7, -3.85), (-2.8, -3.65), (-2.85, -3.9), (-2.75, -4.1), (-2.9, -3.7),
    (-3.0, -4.3), (-3.1, -4.2), (-3.2, -4.45), (-3.35, -4.25), (-1.2, -2.4), (-1.15, -2.2), (-1.1, -2.5),
    (-1.05, -2.3), (-1.0, -2.15), (-0.95, -2.35), (-1.05, -2.45), (-1.15, -2.65), (-1.25, -2.1), (-1.3, -2.5),
    (-1.35, -2.45), (-1.4, -2.6), (-1.45, -2.4), (-0.6, -1.2), (-0.55, -1.05), (-0.5, -1.15), (-0.65, -1.1),
    (-0.6, -0.95), (-0.55, -0.95), (-0.5, -1.25), (-0.7, -0.9), (-0.75, -1.0), (-0.8, -1.05), (-0.65, -1.6),
    (-0.7, -1.45), (-1.65, -2.3), (-1.7, -2.15), (-1.75, -2.6), (-1.8, -2.95), (-1.85, -2.85), (-1.9, -3.15),
    (-1.95, -3.5), (-2.0, -3.7), (-2.05, -3.85), (-1.7, -3.5), (-1.65, -3.3), (-1.6, -3.5), (-1.55, -2.7),
    (-1.5, -2.8), (-0.85, -1.75), (-0.9, -2.0), (-1.0, -2.6), (-1.1, -2.8),
]

ocean_alb = [
    (0.05, 0.6), (0.05, 0.5), (0.05, 0.4), (0.04, 0.3), (0.05, 0.55), (0.04, 0.45), (0.0, 0.0),
    (0.02, -0.05), (-0.05, 0.05), (-0.1, 0.0), (0.0, -0.15), (0.03, -0.3), (0.0, -0.5), (0.02, -0.65),
    (0.05, -0.7), (-0.05, -0.55), (-0.1, -0.45), (-0.15, -0.35), (-0.2, -0.3), (-0.25, -0.3), (-0.3, -0.3),
    (-0.35, -0.15), (-0.5, -0.1), (-0.45, -0.55), (-0.15, -0.6), (-0.2, -0.8), (-0.25, -0.9), (-0.15, -0.9),
    (-0.1, -0.85), (-0.35, -0.9), (-0.3, -1.05), (-0.3, -1.2), (-0.4, -1.2), (-0.45, -1.0), (-0.5, -1.1),
    (-0.55, -1.0), (-0.6, -0.9), (-0.65, -1.0), (-0.7, -1.05), (-0.75, -0.95), (-0.8, -1.1), (-0.85, -1.2),
    (-0.6, -1.1), (-0.55, -0.85), (-0.65, -0.8), (-0.7, -0.7), (-0.75, -0.65), (-0.85, -0.55), (-1.0, -0.45),
    (-1.15, -0.5), (-1.4, -0.7), (-0.6, -1.25), (-0.5, -1.35), (-0.55, -1.55), (-0.65, -1.45), (-0.7, -1.3),
    (-0.75, -1.5), (-0.8, -1.7), (-0.85, -1.6), (-0.9, -1.4), (-0.9, -1.75), (-0.95, -1.55), (-1.0, -1.35),
    (-1.05, -1.45), (-1.1, -1.6), (-1.0, -1.2), (-1.05, -1.7), (-1.1, -1.3), (-1.15, -1.5), (-1.2, -1.65),
    (-1.25, -1.4), (-1.3, -1.6), (-1.35, -1.8), (-1.4, -1.5), (-1.45, -1.7), (-1.5, -1.6), (-1.55, -1.9),
    (-1.3, -1.25), (-1.25, -1.95), (-1.2, -2.1), (-1.15, -1.9), (-1.1, -2.2), (-1.05, -2.0), (-1.0, -2.35),
    (-0.95, -2.05), (-0.9, -2.2), (-0.85, -1.9), (-0.8, -2.05), (-0.75, -2.1), (-0.7, -2.0), (-0.65, -1.8),
    (-0.6, -1.7), (-0.5, -1.8), (-0.5, -2.5), (-0.65, -2.4), (-1.0, -2.95), (-1.05, -2.6), (-1.15, -2.5),
    (-1.2, -2.7), (-1.25, -2.4), (-1.3, -2.6), (-1.35, -2.25), (-1.4, -2.45), (-1.45, -2.1), (-1.5, -2.35),
    (-1.55, -2.6), (-1.6, -2.2), (-1.4, -2.8), (-1.45, -2.95), (-1.5, -2.75), (-1.6, -2.85), (-1.65, -2.5),
    (-1.7, -2.3), (-1.75, -2.2), (-1.8, -2.6), (-1.85, -2.4), (-1.9, -2.1), (-1.95, -2.35), (-2.0, -1.95),
    (-2.05, -2.1), (-1.9, -1.7), (-1.8, -1.75), (-1.75, -1.85), (-1.65, -1.6), (-1.6, -1.9), (-1.55, -2.15),
    (-1.7, -2.7), (-1.75, -2.95), (-1.8, -3.05), (-1.65, -3.25), (-1.85, -3.4), (-1.95, -3.6), (-2.0, -3.05),
    (-2.05, -2.75), (-2.1, -2.55), (-2.15, -2.5), (-2.2, -2.6), (-2.25, -2.75), (-2.3, -2.9), (-2.35, -2.55),
    (-2.4, -2.7), (-2.45, -2.95), (-2.2, -2.1), (-2.25, -2.3), (-2.1, -2.9), (-2.15, -3.1), (-2.1, -3.3),
    (-2.05, -3.55), (-2.15, -3.5), (-2.2, -3.25), (-2.25, -3.0), (-2.3, -3.2), (-2.35, -3.4), (-2.4, -3.1),
    (-2.45, -3.3), (-2.5, -3.55), (-2.55, -3.2), (-2.6, -3.0), (-2.65, -2.9), (-2.7, -3.35), (-2.75, -3.7),
    (-2.8, -3.5), (-2.85, -3.6), (-2.9, -3.8), (-2.95, -3.6), (-3.0, -3.9), (-2.8, -3.8), (-2.7, -3.9),
    (-2.6, -3.5), (-2.55, -3.75), (-2.45, -3.6), (-2.4, -3.75), (-2.35, -3.65), (-2.3, -3.5), (-2.25, -3.7),
    (-2.2, -3.6), (-2.65, -3.6), (-2.75, -3.2), (-2.85, -3.35), (-2.95, -3.7), (-3.05, -4.2), (-3.1, -4.15),
    (-3.2, -3.9), (-3.15, -4.2), (-3.2, -4.35), (-3.25, -4.2), (-3.3, -4.5), (-3.35, -4.35), (-3.4, -4.7),
    (-3.45, -4.25), (-3.45, -4.55), (-3.45, -4.95), (-3.4, -4.9), (-3.35, -4.85), (-3.3, -4.75), (-3.25, -5.05),
    (-3.2, -4.8), (-3.15, -4.65), (-3.1, -4.4), (-3.0, -4.35), (-2.95, -4.25), (-2.9, -4.1), (-2.85, -4.0),
    (-2.8, -4.3), (-2.75, -4.45), (-2.8, -4.6), (-2.75, -4.15), (-3.0, -4.0), (-2.9, -4.4), (-3.35, -4.6),
    (-3.25, -4.5), (-2.7, -3.6), (-2.65, -4.2), (-2.5, -3.4), (-2.45, -2.4), (-2.3, -2.1), (-1.95, -1.95),
    (-1.9, -1.8), (-1.85, -2.0), (-1.15, -1.95), (-1.05, -1.1), (-0.95, -1.0), (-0.35, -0.55), (-0.2, -0.5),
    (-0.1, -0.75), (-0.05, -0.2),
    (-2.45, -3.45), (-2.4, -3.3), (-2.35, -3.5), (-2.3, -3.35), (-2.25, -3.5), (-2.2, -3.4), (-2.15, -3.25),
    (-2.1, -3.45), (-2.3, -3.05), (-2.25, -3.15), (-2.2, -3.0), (-2.15, -2.95), (-2.4, -3.55), (-2.5, -3.25),
    (-2.55, -3.4), (-2.35, -3.2), (-2.2, -3.7), (-2.6, -3.7), (-2.7, -3.5), (-1.8, -2.5), (-1.75, -2.4),
    (-1.7, -2.55), (-1.65, -2.4), (-1.6, -2.55), (-1.7, -2.2), (-1.65, -2.7), (-1.75, -2.65), (-1.1, -1.45),
    (-1.05, -1.55), (-1.0, -1.65), (-0.95, -1.4), (-1.05, -1.3), (-1.0, -1.5), (-1.1, -1.75), (-0.7, -0.95),
    (-0.65, -0.9), (-0.6, -0.95), (-0.55, -1.05), (-0.65, -1.15), (-0.6, -1.05), (-0.7, -1.1), (-0.5, -0.95),
    (-0.75, -1.2), (-1.3, -2.1), (-1.25, -2.25), (-1.2, -1.9), (-1.15, -2.05), (-1.35, -1.95), (-1.4, -2.05),
    (-1.45, -2.3), (-2.0, -2.8), (-1.95, -2.55), (-1.9, -2.85), (-2.05, -2.45), (-2.65, -3.3), (-2.75, -3.45),
    (-2.85, -3.75), (-3.05, -4.35), (-3.2, -4.55), (-3.4, -4.45), (-0.85, -1.35), (-0.8, -1.45), (-0.75, -1.75),
    (-0.4, -0.95), (-0.25, -0.55),
]

col_titles = ["0.5 x Dome C Temperature", "1.5 x Deep Ocean Temperature"]
row_labels = ["GHGs + Albedo", "GHGs", "Albedo"]
xlims = [(-7, 0.5), (-4, 0.5), (-4, 0.5)]
xticks = [[-7, -6, -5, -4, -3, -2, -1, 0], [-4, -3, -2, -1, 0], [-4, -3, -2, -1, 0]]
yticks = [-5, -4, -3, -2, -1, 0, 1, 2]
panels = [[dome_both, ocean_both], [dome_ghg, ocean_ghg], [dome_alb, ocean_alb]]

GREEN = "#3bb34a"
BLUE = "#3a55a5"
colors = [GREEN, BLUE]

# ---------------- figure ----------------
plt.rcParams["font.family"] = ["Liberation Serif", "DejaVu Serif"]
plt.rcParams["mathtext.fontset"] = "custom"
plt.rcParams["mathtext.rm"] = "Liberation Serif"
plt.rcParams["mathtext.it"] = "Liberation Serif:italic"

W, H = 964, 1428
fig = plt.figure(figsize=(W / 100, H / 100), dpi=100)

col_left = [68, 570]
ax_w = 401
row_top = [40, 512, 978]
row_h = [397, 398, 400]
AX_COL = "#5a5a5a"
TXT = "#222222"

for r in range(3):
    for c in range(2):
        l = col_left[c]
        t = row_top[r]
        h = row_h[r]
        ax = fig.add_axes([l / W, (H - t - h) / H, ax_w / W, h / H])
        pts = panels[r][c]
        xs = [p[0] for p in pts]
        ys = [p[1] for p in pts]
        ax.scatter(xs, ys, s=30, color=colors[c], linewidths=0, zorder=3)
        ax.set_xlim(*xlims[r])
        ax.set_ylim(-5.5, 2.5)
        ax.set_xticks(xticks[r])
        ax.set_yticks(yticks)
        ax.xaxis.set_minor_locator(MultipleLocator(0.5))
        ax.yaxis.set_minor_locator(MultipleLocator(0.5))
        ax.tick_params(which="both", direction="in", top=True, right=True,
                       length=7, width=1.0, color=AX_COL, labelsize=11.5, pad=7,
                       labelcolor=TXT)
        for sp in ax.spines.values():
            sp.set_color(AX_COL)
            sp.set_linewidth(1.0)
        ax.set_xlabel(r"Forcing (W/m$^{2}$)", fontsize=13.2, color=TXT, labelpad=3)
        ax.set_ylabel("T Anomaly (°C)", fontsize=13.2, color=TXT, labelpad=5)
        ax.text(0.14, 0.915, row_labels[r], transform=ax.transAxes, fontsize=15.5,
                ha="left", va="center", color=TXT)
        if r == 0:
            ax.set_title(col_titles[c], fontsize=16.5, color=TXT, pad=7)

fig.savefig("out.png", dpi=100)
